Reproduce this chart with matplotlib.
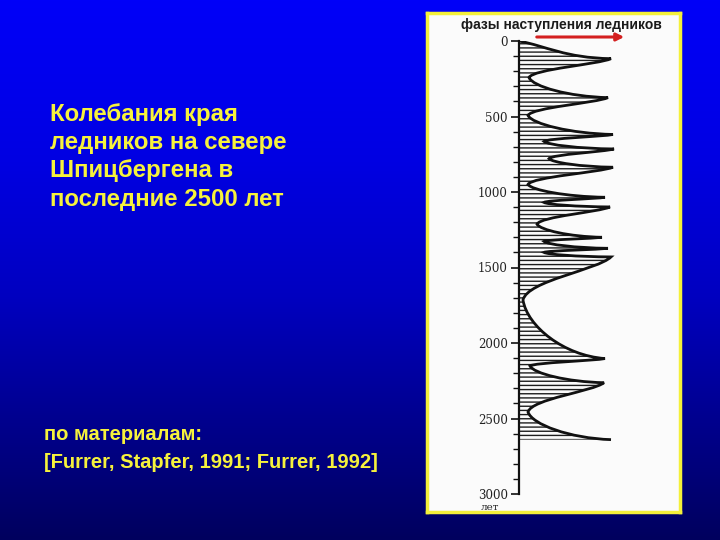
import numpy as np
import matplotlib
matplotlib.use('Agg')
import matplotlib.pyplot as plt
from matplotlib.path import Path
from matplotlib.patches import PathPatch
from matplotlib.colors import LinearSegmentedColormap

# glacier front: turning points of the curve (years ago, advance in px-like units)
years = [0, 117, 242, 375, 493, 619, 665, 715, 779, 836, 950, 1035, 1069, 1099,
         1213, 1300, 1327, 1373, 1400, 1430, 1715, 2103, 2152, 2263, 2457, 2640]
advance = [0, 92, 10, 89, 9, 94, 25, 95, 30, 94, 9, 86, 25, 91,
           18, 83, 25, 89, 25, 92, 4, 86, 11, 85, 9, 92]

tick_years = [0, 500, 1000, 1500, 2000, 2500, 3000]
tick_labels = ['0', '500', '1000', '1500', '2000', '2500', '3000']

title_lines = ['Колебания края', 'ледников на севере', 'Шпицбергена в', 'последние 2500 лет']
source_lines = ['по материалам:', '[Furrer, Stapfer, 1991; Furrer, 1992]']
panel_title = 'фазы наступления ледников'

W, H = 720, 540


def fx(px):
    return px / W


def fy(py):
    return 1 - py / H


def curve_path(ys, xs, closed=False):
    """Smooth curve through turning points: spiky tips, round troughs."""
    def ctrl(i, j):
        # control point next to point i on the segment towards point j
        dx, dy = xs[j] - xs[i], ys[j] - ys[i]
        if i == 0:
            return (xs[i] + 0.3 * dx, ys[i] + 0.3 * dy)
        if xs[i] > 50:  # tip: sharp from above, fuller below
            if j < i:
                return (xs[i] + 0.5 * dx, ys[i] + 0.05 * dy)
            return (xs[i] + 0.15 * dx, ys[i] + 0.3 * dy)
        return (xs[i] + 0.05 * dx, ys[i] + 0.45 * dy)  # trough
    verts = [(xs[0], ys[0])]
    codes = [Path.MOVETO]
    for i in range(1, len(xs)):
        verts += [ctrl(i - 1, i), ctrl(i, i - 1), (xs[i], ys[i])]
        codes += [Path.CURVE4] * 3
    if closed:
        verts += [(0, ys[-1]), (0, ys[0]), (0, ys[0])]
        codes += [Path.LINETO, Path.LINETO, Path.CLOSEPOLY]
    return Path(verts, codes)


plt.rcParams['hatch.linewidth'] = 1.0
fig = plt.figure(figsize=(7.2, 5.4), dpi=100)

# background gradient
bg = fig.add_axes([0, 0, 1, 1])
cmap = LinearSegmentedColormap.from_list(
    'slide', [(0, '#0000f8'), (0.3, '#0000e2'), (0.55, '#0000c0'), (1.0, '#00005e')])
bg.imshow(np.linspace(0, 1, 256).reshape(-1, 1), cmap=cmap, aspect='auto',
          extent=[0, 1, 0, 1])
bg.axis('off')

# left text
text_kw = dict(color='#f6f23c', fontweight='bold', family='Liberation Sans')
for line, base in zip(title_lines, [120.5, 149, 177.5, 206]):
    fig.text(fx(50), fy(base), line, fontsize=17.3, va='baseline', **text_kw)
for line, base in zip(source_lines, [440, 468]):
    fig.text(fx(44), fy(base), line, fontsize=14.5, va='baseline', **text_kw)

# white panel with yellow frame
panel = fig.add_axes([fx(427), fy(512), fx(680) - fx(427), fy(13) - fy(512)])
panel.set_facecolor('#fbfbfb')
panel.set_xticks([])
panel.set_yticks([])
for sp in panel.spines.values():
    sp.set_color('#f4f03a')
    sp.set_linewidth(2.5)

fig.text(fx(561), fy(25), panel_title, ha='center', va='center', fontsize=10,
         fontweight='bold', color='#1a1a1a', family='Liberation Sans')
panel.annotate('', xy=(fx(627), fy(37)), xytext=(fx(534), fy(37)),
               xycoords='figure fraction', textcoords='figure fraction',
               arrowprops=dict(arrowstyle='-|>', color='#d42020', lw=2.2,
                               mutation_scale=11))

# chart
ax = fig.add_axes([fx(519), fy(494), 140 / W, 453 / H])
ax.set_facecolor('none')
ax.set_xlim(0, 140)
ax.set_ylim(3000, 0)

ax.add_patch(PathPatch(curve_path(years, advance, closed=True), facecolor='none',
                       edgecolor='#1e1e1e', hatch='----', lw=0))
ax.add_patch(PathPatch(curve_path(years, advance), facecolor='none',
                       edgecolor='#111111', lw=2))

for s in ['top', 'right', 'bottom']:
    ax.spines[s].set_visible(False)
ax.spines['left'].set_linewidth(1.6)
ax.spines['left'].set_color('#111111')
ax.set_xticks([])
ax.set_yticks(tick_years, tick_labels)
ax.set_yticks(np.arange(0, 3001, 100), minor=True)
ax.tick_params(axis='y', which='major', length=6, width=1.2, pad=2,
               labelsize=8.5, labelcolor='#222222', color='#111111')
ax.tick_params(axis='y', which='minor', length=4, width=1.0, color='#111111')
for lbl in ax.get_yticklabels():
    lbl.set_fontfamily('DejaVu Serif')
ax.text(-29, 3060, 'лет', ha='center', va='top', fontsize=7.5,
        family='DejaVu Serif', color='#222222', clip_on=False)

fig.savefig('out.png', dpi=100)
